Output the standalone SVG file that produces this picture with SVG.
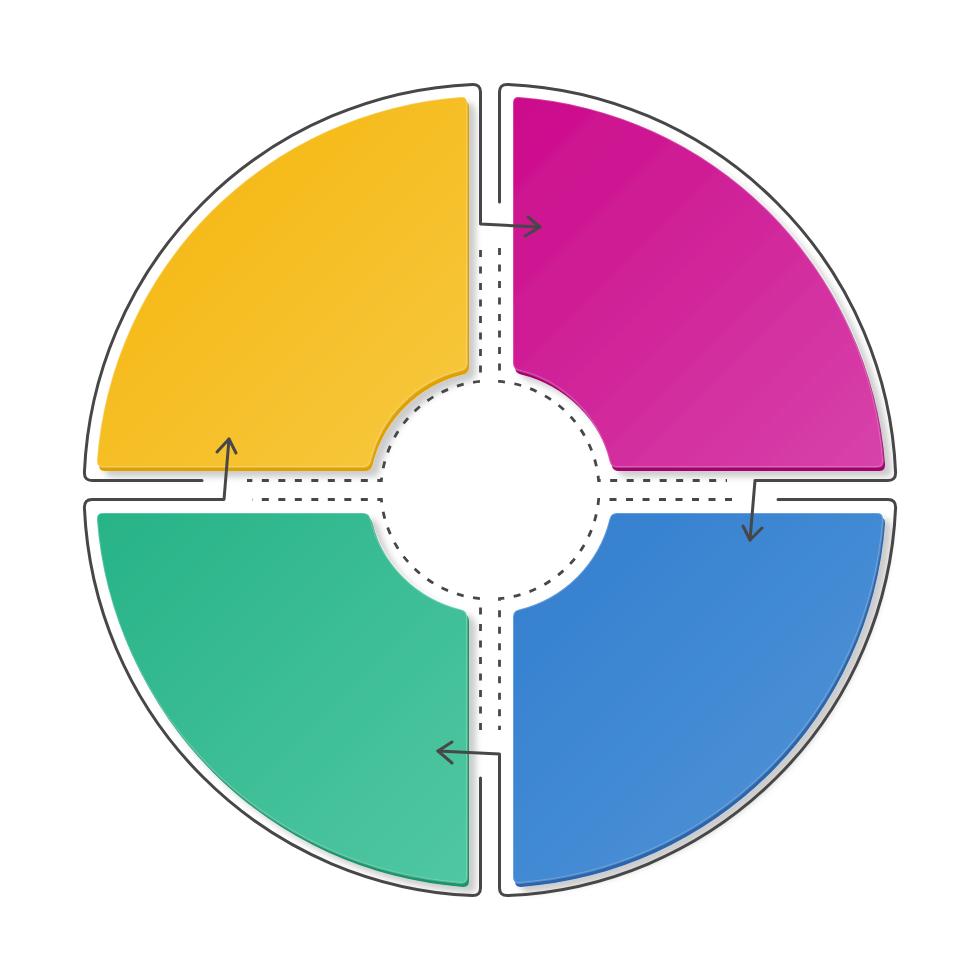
<svg xmlns="http://www.w3.org/2000/svg" width="980" height="980" viewBox="0 0 980 980">
  <defs>
    <linearGradient id="gY" x1="0" y1="0" x2="1" y2="1">
      <stop offset="0" stop-color="#F4B50A"/>
      <stop offset="1" stop-color="#F7C840"/>
    </linearGradient>
    <linearGradient id="gM" x1="0" y1="0" x2="1" y2="1">
      <stop offset="0" stop-color="#CB0A8B"/>
      <stop offset="1" stop-color="#D743AA"/>
    </linearGradient>
    <linearGradient id="gB" x1="0" y1="0" x2="1" y2="1">
      <stop offset="0" stop-color="#327ECF"/>
      <stop offset="1" stop-color="#5295D7"/>
    </linearGradient>
    <linearGradient id="gG" x1="0" y1="0" x2="1" y2="1">
      <stop offset="0" stop-color="#27B387"/>
      <stop offset="1" stop-color="#50C7A3"/>
    </linearGradient>
    <filter id="sh" x="-10%" y="-10%" width="130%" height="130%">
      <feDropShadow dx="7" dy="6" stdDeviation="3" flood-color="#000" flood-opacity="0.2"/>
    </filter>
    <style>
      .edge { stroke: none; }
      .face { stroke: #ffffff; stroke-opacity: 0.22; stroke-width: 2; }
      .outline { fill: none; stroke: #474747; stroke-width: 3; stroke-linejoin: round; stroke-linecap: round; }
      .arrow { fill: none; stroke: #474747; stroke-width: 3; stroke-linejoin: round; stroke-linecap: round; }
      .dash { fill: none; stroke: #474747; stroke-width: 2.8; stroke-dasharray: 7 9.5; }
    </style>
  </defs>
  <rect width="980" height="980" fill="#ffffff"/>

  <g id="node-yellow" filter="url(#sh)">
    <path class="edge" fill="#DFA106" transform="translate(2,4)" d="M 96.9,461 A 394 394 0 0 1 461,97.1 Q 467,96.7 467,103 L 467,363 Q 467,369.2 461,370.5 A 123 123 0 0 0 370.5,461 Q 369.2,467 363,467 L 103,467 Q 96.7,467 97.1,461 Z"/>
    <path class="face" fill="url(#gY)" d="M 96.9,461 A 394 394 0 0 1 461,97.1 Q 467,96.7 467,103 L 467,363 Q 467,369.2 461,370.5 A 123 123 0 0 0 370.5,461 Q 369.2,467 363,467 L 103,467 Q 96.7,467 97.1,461 Z"/>
  </g>

  <g id="node-magenta" filter="url(#sh)">
    <path class="edge" fill="#A3006F" transform="translate(2,4)" d="M 883.1,461 A 394 394 0 0 0 519,97.1 Q 513,96.7 513,103 L 513,363 Q 513,369.2 519,370.5 A 123 123 0 0 1 609.5,461 Q 610.8,467 617,467 L 877,467 Q 883.3,467 882.9,461 Z"/>
    <path class="face" fill="url(#gM)" d="M 883.1,461 A 394 394 0 0 0 519,97.1 Q 513,96.7 513,103 L 513,363 Q 513,369.2 519,370.5 A 123 123 0 0 1 609.5,461 Q 610.8,467 617,467 L 877,467 Q 883.3,467 882.9,461 Z"/>
  </g>

  <g id="node-blue" filter="url(#sh)">
    <path class="edge" fill="#2A66AD" transform="translate(2,4)" d="M 883.1,519 A 394 394 0 0 1 519,882.9 Q 513,883.3 513,877 L 513,617 Q 513,610.8 519,609.5 A 123 123 0 0 0 609.5,519 Q 610.8,513 617,513 L 877,513 Q 883.3,513 882.9,519 Z"/>
    <path class="face" fill="url(#gB)" d="M 883.1,519 A 394 394 0 0 1 519,882.9 Q 513,883.3 513,877 L 513,617 Q 513,610.8 519,609.5 A 123 123 0 0 0 609.5,519 Q 610.8,513 617,513 L 877,513 Q 883.3,513 882.9,519 Z"/>
  </g>

  <g id="node-green" filter="url(#sh)">
    <path class="edge" fill="#1B946A" transform="translate(2,4)" d="M 96.9,519 A 394 394 0 0 0 461,882.9 Q 467,883.3 467,877 L 467,617 Q 467,610.8 461,609.5 A 123 123 0 0 1 370.5,519 Q 369.2,513 363,513 L 103,513 Q 96.7,513 97.1,519 Z"/>
    <path class="face" fill="url(#gG)" d="M 96.9,519 A 394 394 0 0 0 461,882.9 Q 467,883.3 467,877 L 467,617 Q 467,610.8 461,609.5 A 123 123 0 0 1 370.5,519 Q 369.2,513 363,513 L 103,513 Q 96.7,513 97.1,519 Z"/>
  </g>

  <g id="center-dashes">
    <path class="dash" d="M 480.5,250 L 480.5,381.4 A 109 109 0 0 0 381.4,480.5 L 247,480.5"/>
    <path class="dash" d="M 499.5,248 L 499.5,381.4 A 109 109 0 0 1 598.6,480.5 L 727,480.5"/>
    <path class="dash" d="M 732,499.5 L 598.6,499.5 A 109 109 0 0 1 499.5,598.6 L 499.5,730"/>
    <path class="dash" d="M 480.5,730 L 480.5,598.6 A 109 109 0 0 1 381.4,499.5 L 252,499.5"/>
  </g>

  <g id="connectors">
    <path class="outline" d="M 540,227 L 480.5,224 L 480.5,92 Q 480.5,84.3 472.5,84.4 A 406 406 0 0 0 84.4,472.5 Q 84.3,480.5 92,480.5 L 202,480.5"/>
    <path class="arrow" d="M 528,217 L 540,227 L 525,236"/>
    <path class="outline" d="M 499.5,202 L 499.5,92 Q 499.5,84.3 507.5,84.4 A 406 406 0 0 1 895.6,472.5 Q 895.7,480.5 888,480.5 L 755,480.5 L 750,540"/>
    <path class="arrow" d="M 743,526 L 750,540 L 762,528"/>
    <path class="outline" d="M 438,751 L 499.5,754 L 499.5,888 Q 499.5,895.7 507.5,895.6 A 406 406 0 0 0 895.6,507.5 Q 895.7,499.5 888,499.5 L 778,499.5"/>
    <path class="arrow" d="M 452,742 L 438,751 L 452,763"/>
    <path class="outline" d="M 229,439 L 224,499.5 L 92,499.5 Q 84.3,499.5 84.4,507.5 A 406 406 0 0 0 472.5,895.6 Q 480.5,895.7 480.5,888 L 480.5,778"/>
    <path class="arrow" d="M 217,452 L 229,439 L 236,453"/>
  </g>
</svg>
